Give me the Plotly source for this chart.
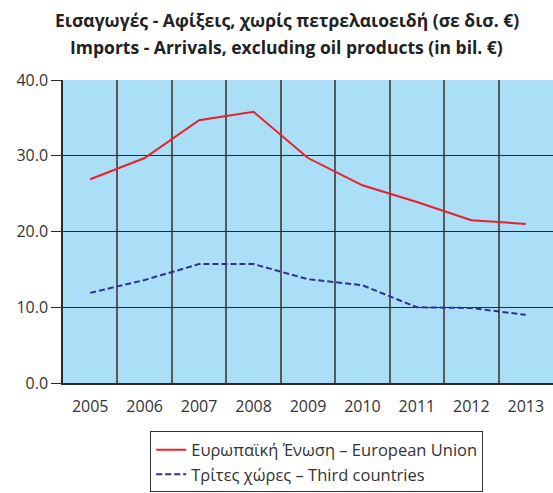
import plotly.graph_objects as go

years = ["2005", "2006", "2007", "2008", "2009", "2010", "2011", "2012", "2013"]
eu_values = [26.9, 29.7, 34.7, 35.8, 29.7, 26.1, 23.9, 21.5, 21.0]
third_values = [11.9, 13.6, 15.7, 15.7, 13.7, 12.9, 10.0, 9.9, 9.0]
y_ticks = [0, 10, 20, 30, 40]
title_lines = [
    "Εισαγωγές - Αφίξεις, χωρίς πετρελαιοειδή (σε δισ. €)",
    "Imports - Arrivals, excluding oil products (in bil. €)",
]

x_pos = list(range(len(years)))
grid_color = "#2a2a2a"
vgrid_color = "#555a5e"
font_family = "Open Sans, DejaVu Sans, sans-serif"

fig = go.Figure()
fig.add_trace(go.Scatter(
    x=x_pos, y=eu_values, mode="lines",
    name="Ευρωπαϊκή Ένωση – European Union",
    line=dict(color="#E8202A", width=2),
))
fig.add_trace(go.Scatter(
    x=x_pos, y=third_values, mode="lines",
    name="Τρίτες χώρες – Third countries",
    line=dict(color="#2E3192", width=2, dash="6px,3px"),
))

# two-line bold heading placed above the plot area
for text, ypos in zip(title_lines, [1.198, 1.109]):
    fig.add_annotation(
        text=text, xref="paper", yref="paper", x=0.457, y=ypos,
        xanchor="center", yanchor="middle", showarrow=False,
        font=dict(size=17.5, family=font_family, color="#222222", weight="bold"),
    )

fig.update_layout(
    width=553, height=493,
    margin=dict(l=63, r=0, t=80, b=110),
    paper_bgcolor="white",
    plot_bgcolor="#ABDFF8",
    font=dict(family=font_family, color="#333333", size=16),
    showlegend=True,
    legend=dict(
        x=0.178, xanchor="left", y=-0.16, yanchor="top",
        bordercolor="#333333", borderwidth=1, bgcolor="white",
        font=dict(size=16.5, color="#333333"),
        tracegroupgap=0,
    ),
)

fig.update_xaxes(
    range=[-0.5, len(years) - 0.5],
    tickvals=x_pos, ticktext=years,
    showgrid=False, zeroline=False,
    ticks="", ticklen=0, ticklabelstandoff=8,
    showline=True, linecolor=grid_color, linewidth=1.5,
    minor=dict(tick0=0.5, dtick=1, showgrid=True, gridcolor=vgrid_color, gridwidth=2, ticks=""),
    fixedrange=True,
)
fig.update_yaxes(
    range=[0, 40],
    tickvals=y_ticks, tickformat=".1f",
    showgrid=True, gridcolor=grid_color, gridwidth=1,
    zeroline=False,
    ticks="outside", ticklen=10, tickcolor=grid_color, tickwidth=1,
    showline=True, linecolor=grid_color, linewidth=1.5,
    fixedrange=True,
)

fig.write_html("out.html")
